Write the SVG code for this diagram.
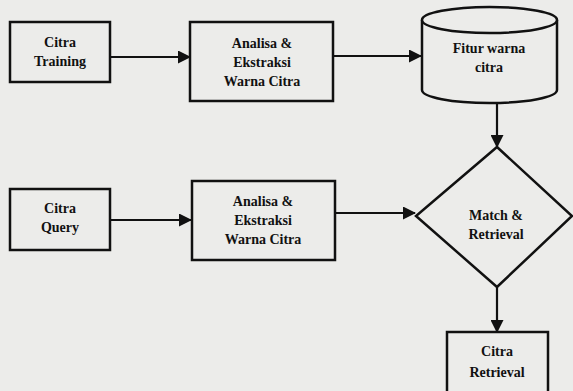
<svg xmlns="http://www.w3.org/2000/svg" width="573" height="391" viewBox="0 0 573 391">
<style>
.s{fill:none;stroke:#111;stroke-width:2.5}
.b{fill:#ececea;stroke:#111;stroke-width:2.5}
.t{font-family:"Liberation Serif","DejaVu Serif","Times New Roman",serif;font-weight:bold;font-size:14px;fill:#111;text-anchor:middle}
.c{stroke:#111;stroke-width:2.2;fill:none;marker-end:url(#ah)}
</style>
<defs>
<marker id="ah" markerWidth="13" markerHeight="13" refX="12" refY="6.5" orient="auto" markerUnits="userSpaceOnUse">
<path d="M0,0 L13,6.5 L0,13 Z" fill="#111"/>
</marker>
</defs>
<rect width="573" height="391" fill="#ececea"/>
<g id="connectors">
<line class="c" x1="111" y1="57" x2="190" y2="57"/>
<line class="c" x1="334" y1="56" x2="421" y2="56"/>
<line class="c" x1="497" y1="104" x2="497" y2="147"/>
<line class="c" x1="111" y1="220" x2="191" y2="220"/>
<line class="c" x1="335" y1="213" x2="415" y2="213"/>
<line class="c" x1="497" y1="287" x2="497" y2="332"/>
</g>
<g id="citra-training">
<rect class="b" x="10" y="22" width="100" height="60"/>
<text class="t" x="60" y="47">Citra</text>
<text class="t" x="60" y="66">Training</text>
</g>
<g id="analisa-1">
<rect class="b" x="190" y="22" width="143" height="79"/>
<text class="t" x="262" y="48">Analisa &amp;</text>
<text class="t" x="262" y="67">Ekstraksi</text>
<text class="t" x="262" y="86">Warna Citra</text>
</g>
<g id="fitur-warna">
<path class="b" d="M422,20 L422,90 A67.5,13 0 0 0 557,90 L557,20"/>
<ellipse class="b" cx="489.5" cy="20" rx="67.5" ry="13"/>
<text class="t" x="489" y="53">Fitur warna</text>
<text class="t" x="489" y="72">citra</text>
</g>
<g id="citra-query">
<rect class="b" x="10" y="189" width="100" height="61"/>
<text class="t" x="60" y="213">Citra</text>
<text class="t" x="60" y="232">Query</text>
</g>
<g id="analisa-2">
<rect class="b" x="192" y="181" width="143" height="79"/>
<text class="t" x="263" y="206">Analisa &amp;</text>
<text class="t" x="263" y="225">Ekstraksi</text>
<text class="t" x="263" y="244">Warna Citra</text>
</g>
<g id="match-retrieval">
<polygon class="b" points="497,147 572,216 497,287 416,216"/>
<text class="t" x="496" y="220">Match &amp;</text>
<text class="t" x="496" y="239">Retrieval</text>
</g>
<g id="citra-retrieval">
<rect class="b" x="447" y="332" width="101" height="62"/>
<text class="t" x="497" y="356">Citra</text>
<text class="t" x="497" y="377">Retrieval</text>
</g>
</svg>
